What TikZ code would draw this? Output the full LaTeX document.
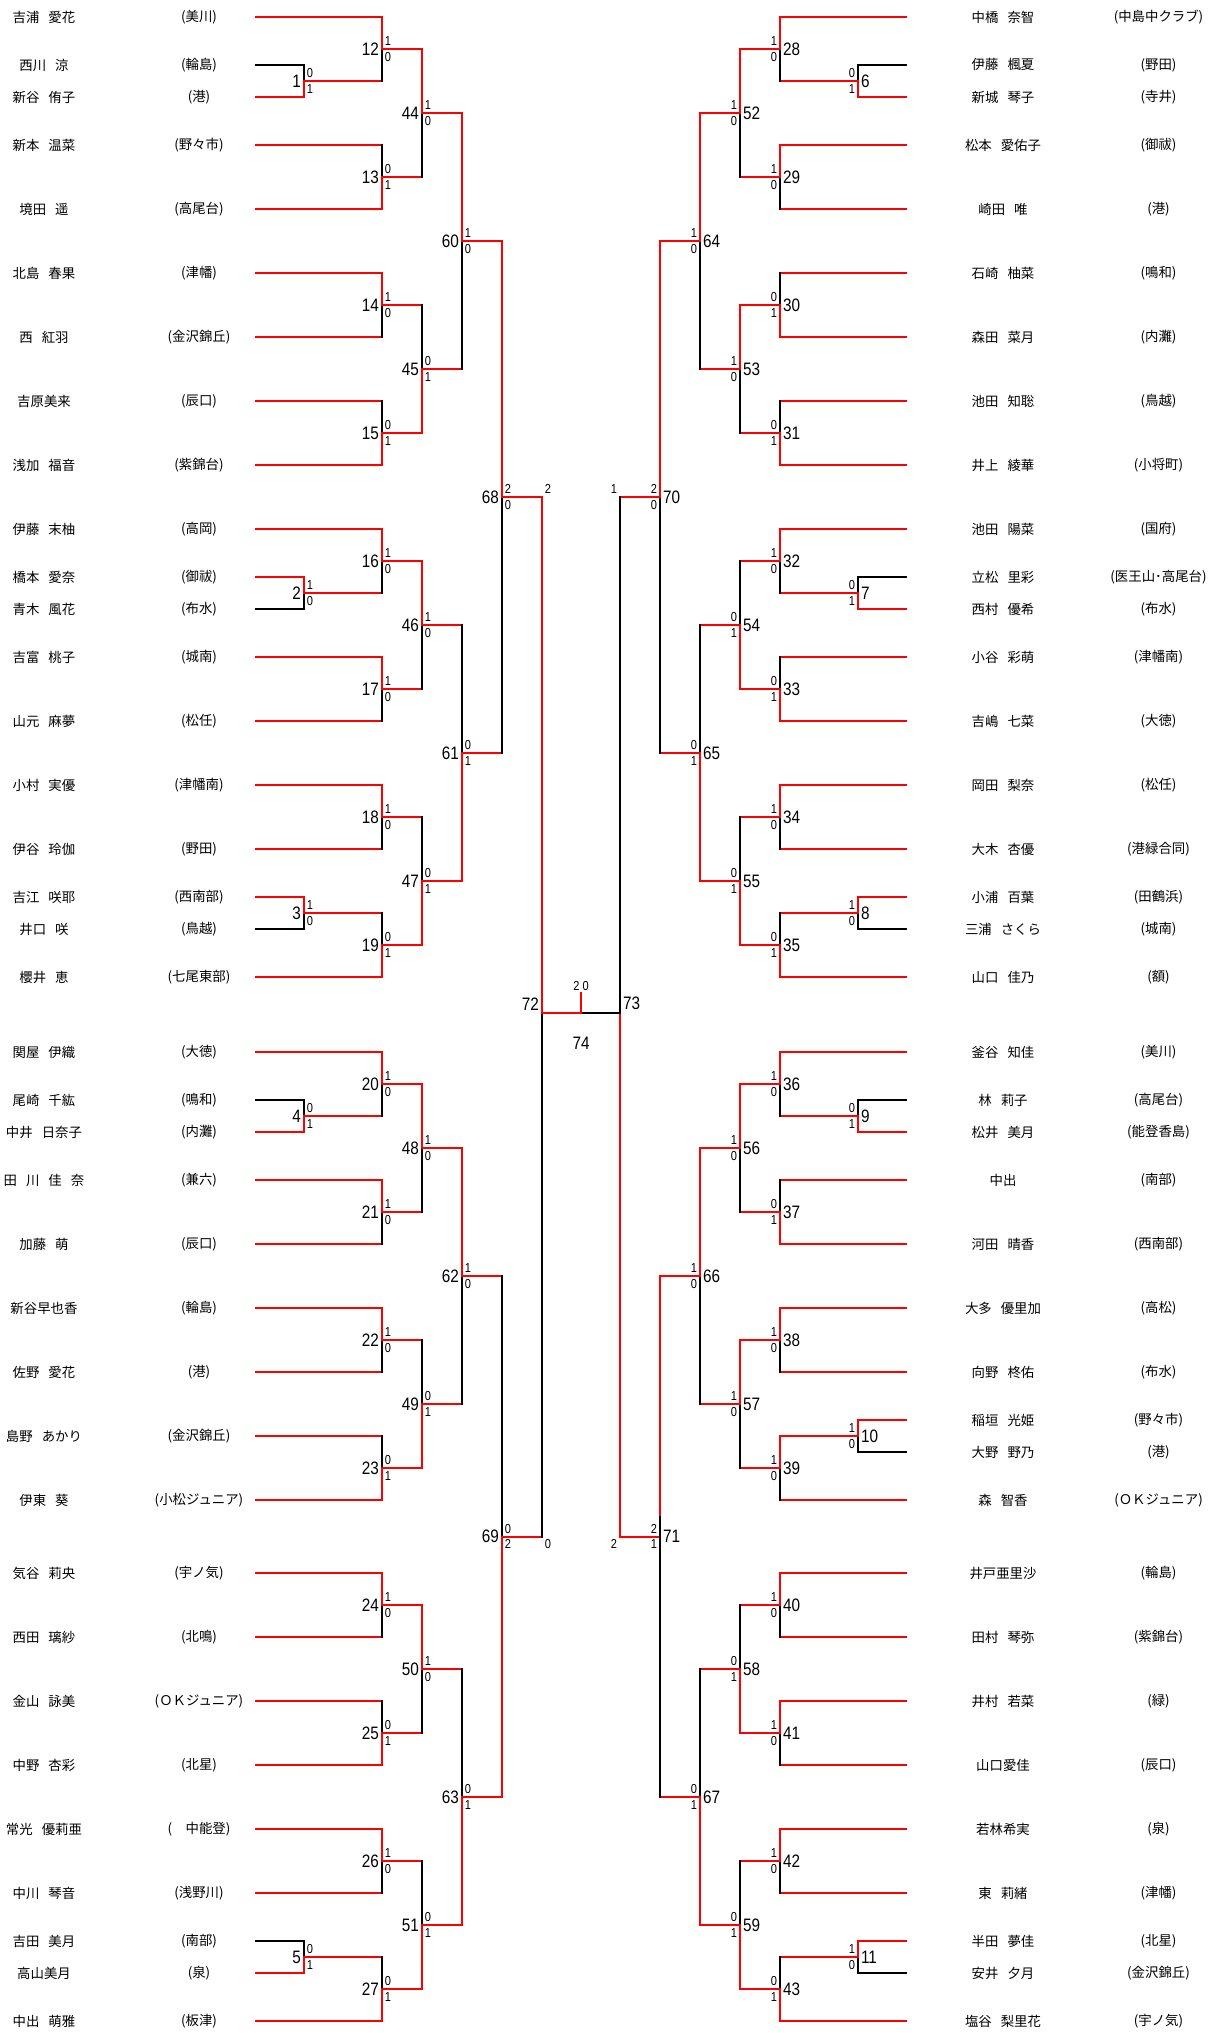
\documentclass[tikz,border=0pt]{standalone}
\usepackage{fontspec}
\setmainfont{Noto Sans CJK JP}[WordSpace=3]
\newfontfamily\numfont[FakeStretch=0.85]{Liberation Sans}
\usetikzlibrary{calc}

% one match: number, top feeder, bottom feeder, round x, next round x, scores, side
\newcommand\bout[8]{%
  \path ($(#2)!.5!(#3)$) coordinate (h#1);
  \coordinate (m#1) at (h#1 -| x#4);
  \ifnum#6>#7\relax \def\tcol{red}\def\bcol{black}\else \def\tcol{black}\def\bcol{red}\fi
  \draw[wire,color=\tcol] (#2 -| x#4) -- (m#1);
  \draw[wire,color=\bcol] (#3 -| x#4) -- (m#1);
  \draw[wire,red] (m#1) -- (m#1 -| x#5);
  \node[no#8] at (m#1) {#1};
  \node[ts#8] at (m#1) {#6};
  \node[bs#8] at (m#1) {#7};
}

\begin{document}
\begin{tikzpicture}[
x=0.5pt, y=-0.5pt,
wire/.style={line width=1pt,line cap=rect},
player/.style={inner sep=0pt,font=\fontsize{6.7}{7}\selectfont},
boutno/.style={inner sep=1.3pt,font=\numfont\fontsize{9}{10}\selectfont},
score/.style={inner xsep=1.25pt,inner ysep=1.4pt,font=\numfont\fontsize{6.5}{7}\selectfont},
nol/.style={boutno,anchor=east},
nor/.style={boutno,anchor=west},
tsl/.style={score,anchor=south west},
tsr/.style={score,anchor=south east},
bsl/.style={score,anchor=north west},
bsr/.style={score,anchor=north east}]
\useasboundingbox (0,0) rectangle (1208,2033);

% x of each round
\foreach \g/\x in {l0/256,lp/304,l1/382,l2/422,l3/462,l4/502,l5/542,c/581,
  r5/620,r4/660,r3/700,r2/740,r1/780,rp/858,r0/906}
  \coordinate (x\g) at (\x,0);

% left players
\foreach \i/\y/\who/\club/\tox/\wc in {
  0/17/吉浦 愛花/美川/l1/red,
  1a/65/西川 涼/輪島/lp/black,
  1b/97/新谷 侑子/港/lp/red,
  2/145/新本 温菜/野々市/l1/red,
  3/209/境田 遥/高尾台/l1/red,
  4/273/北島 春果/津幡/l1/red,
  5/337/西 紅羽/金沢錦丘/l1/red,
  6/401/吉原美来/辰口/l1/red,
  7/465/浅加 福音/紫錦台/l1/red,
  8/529/伊藤 末柚/高岡/l1/red,
  9a/577/橋本 愛奈/御祓/lp/red,
  9b/609/青木 風花/布水/lp/black,
  10/657/吉富 桃子/城南/l1/red,
  11/721/山元 麻夢/松任/l1/red,
  12/785/小村 実優/津幡南/l1/red,
  13/849/伊谷 玲伽/野田/l1/red,
  14a/897/吉江 咲耶/西南部/lp/red,
  14b/929/井口 咲/鳥越/lp/black,
  15/977/櫻井 恵/七尾東部/l1/red,
  16/1052/関屋 伊織/大徳/l1/red,
  17a/1100/尾崎 千紘/鳴和/lp/black,
  17b/1132/中井 日奈子/内灘/lp/red,
  18/1180/田 川 佳 奈/兼六/l1/red,
  19/1244/加藤 萌/辰口/l1/red,
  20/1308/新谷早也香/輪島/l1/red,
  21/1372/佐野 愛花/港/l1/red,
  22/1436/島野 あかり/金沢錦丘/l1/red,
  23/1500/伊東 葵/小松ジュニア/l1/red,
  24/1573/気谷 莉央/宇ノ気/l1/red,
  25/1637/西田 璃紗/北鳴/l1/red,
  26/1701/金山 詠美/ＯＫジュニア/l1/red,
  27/1765/中野 杏彩/北星/l1/red,
  28/1829/常光 優莉亜/　中能登/l1/red,
  29/1893/中川 琴音/浅野川/l1/red,
  30a/1941/吉田 美月/南部/lp/black,
  30b/1973/高山美月/泉/lp/red,
  31/2021/中出 萌雅/板津/l1/red}{
  \coordinate (L\i) at (256,\y);
  \node[player] (nL\i) at (44,\y) {\who};
  \node[player] (cL\i) at (199,\y) {(\club)};
  \draw[wire,color=\wc] (L\i) -- (L\i -| x\tox);
}

% right players
\foreach \i/\y/\who/\club/\tox/\wc in {
  0/17/中橋 奈智/中島中クラブ/r1/red,
  1a/65/伊藤 楓夏/野田/rp/black,
  1b/97/新城 琴子/寺井/rp/red,
  2/145/松本 愛佑子/御祓/r1/red,
  3/209/崎田 唯/港/r1/red,
  4/273/石崎 柚菜/鳴和/r1/red,
  5/337/森田 菜月/内灘/r1/red,
  6/401/池田 知聡/鳥越/r1/red,
  7/465/井上 綾華/小将町/r1/red,
  8/529/池田 陽菜/国府/r1/red,
  9a/577/立松 里彩/医王山･高尾台/rp/black,
  9b/609/西村 優希/布水/rp/red,
  10/657/小谷 彩萌/津幡南/r1/red,
  11/721/吉嶋 七菜/大徳/r1/red,
  12/785/岡田 梨奈/松任/r1/red,
  13/849/大木 杏優/港緑合同/r1/red,
  14a/897/小浦 百葉/田鶴浜/rp/red,
  14b/929/三浦 さくら/城南/rp/black,
  15/977/山口 佳乃/額/r1/red,
  16/1052/釜谷 知佳/美川/r1/red,
  17a/1100/林 莉子/高尾台/rp/black,
  17b/1132/松井 美月/能登香島/rp/red,
  18/1180/中出/南部/r1/red,
  19/1244/河田 晴香/西南部/r1/red,
  20/1308/大多 優里加/高松/r1/red,
  21/1372/向野 柊佑/布水/r1/red,
  22a/1420/稲垣 光姫/野々市/rp/red,
  22b/1452/大野 野乃/港/rp/black,
  23/1500/森 智香/ＯＫジュニア/r1/red,
  24/1573/井戸亜里沙/輪島/r1/red,
  25/1637/田村 琴弥/紫錦台/r1/red,
  26/1701/井村 若菜/緑/r1/red,
  27/1765/山口愛佳/辰口/r1/red,
  28/1829/若林希実/泉/r1/red,
  29/1893/東 莉緒/津幡/r1/red,
  30a/1941/半田 夢佳/北星/rp/red,
  30b/1973/安井 夕月/金沢錦丘/rp/black,
  31/2021/塩谷 梨里花/宇ノ気/r1/red}{
  \coordinate (R\i) at (906,\y);
  \node[player] (nR\i) at (1003,\y) {\who};
  \node[player] (cR\i) at (1158.5,\y) {(\club)};
  \draw[wire,color=\wc] (R\i) -- (R\i -| x\tox);
}

% preliminary matches
\bout{1}{L1a}{L1b}{lp}{l1}{0}{1}{l}
\bout{2}{L9a}{L9b}{lp}{l1}{1}{0}{l}
\bout{3}{L14a}{L14b}{lp}{l1}{1}{0}{l}
\bout{4}{L17a}{L17b}{lp}{l1}{0}{1}{l}
\bout{5}{L30a}{L30b}{lp}{l1}{0}{1}{l}
\bout{6}{R1a}{R1b}{rp}{r1}{0}{1}{r}
\bout{7}{R9a}{R9b}{rp}{r1}{0}{1}{r}
\bout{8}{R14a}{R14b}{rp}{r1}{1}{0}{r}
\bout{9}{R17a}{R17b}{rp}{r1}{0}{1}{r}
\bout{10}{R22a}{R22b}{rp}{r1}{1}{0}{r}
\bout{11}{R30a}{R30b}{rp}{r1}{1}{0}{r}

% first round
\foreach \n/\ta/\tb/\sa/\sb in {12/L0/m1/1/0,13/L2/L3/0/1,14/L4/L5/1/0,15/L6/L7/0/1,
  16/L8/m2/1/0,17/L10/L11/1/0,18/L12/L13/1/0,19/m3/L15/0/1,20/L16/m4/1/0,21/L18/L19/1/0,
  22/L20/L21/1/0,23/L22/L23/0/1,24/L24/L25/1/0,25/L26/L27/0/1,26/L28/L29/1/0,27/m5/L31/0/1}
  \bout{\n}{\ta}{\tb}{l1}{l2}{\sa}{\sb}{l};
\foreach \n/\ta/\tb/\sa/\sb in {28/R0/m6/1/0,29/R2/R3/1/0,30/R4/R5/0/1,31/R6/R7/0/1,
  32/R8/m7/1/0,33/R10/R11/0/1,34/R12/R13/1/0,35/m8/R15/0/1,36/R16/m9/1/0,37/R18/R19/0/1,
  38/R20/R21/1/0,39/m10/R23/1/0,40/R24/R25/1/0,41/R26/R27/1/0,42/R28/R29/1/0,43/m11/R31/0/1}
  \bout{\n}{\ta}{\tb}{r1}{r2}{\sa}{\sb}{r};

% second round
\foreach \n/\ta/\tb/\sa/\sb in {44/m12/m13/1/0,45/m14/m15/0/1,46/m16/m17/1/0,47/m18/m19/0/1,
  48/m20/m21/1/0,49/m22/m23/0/1,50/m24/m25/1/0,51/m26/m27/0/1}
  \bout{\n}{\ta}{\tb}{l2}{l3}{\sa}{\sb}{l};
\foreach \n/\ta/\tb/\sa/\sb in {52/m28/m29/1/0,53/m30/m31/1/0,54/m32/m33/0/1,55/m34/m35/0/1,
  56/m36/m37/1/0,57/m38/m39/1/0,58/m40/m41/0/1,59/m42/m43/0/1}
  \bout{\n}{\ta}{\tb}{r2}{r3}{\sa}{\sb}{r};

% third round
\foreach \n/\ta/\tb/\sa/\sb in {60/m44/m45/1/0,61/m46/m47/0/1,62/m48/m49/1/0,63/m50/m51/0/1}
  \bout{\n}{\ta}{\tb}{l3}{l4}{\sa}{\sb}{l};
\foreach \n/\ta/\tb/\sa/\sb in {64/m52/m53/1/0,65/m54/m55/0/1,66/m56/m57/1/0,67/m58/m59/0/1}
  \bout{\n}{\ta}{\tb}{r3}{r4}{\sa}{\sb}{r};

% quarter finals
\bout{68}{m60}{m61}{l4}{l5}{2}{0}{l}
\bout{69}{m62}{m63}{l4}{l5}{0}{2}{l}
\bout{70}{m64}{m65}{r4}{r5}{2}{0}{r}
\bout{71}{m66}{m67}{r4}{r5}{2}{1}{r}
\draw[wire,black] (m71) -- ++(0,-20);

% semi finals and final
\coordinate (m72) at (542,1013);
\coordinate (m73) at (620,1013);
\coordinate (m74) at (581,1013);
\coordinate (t74) at (581,993);
\draw[wire,black] (m69 -| xl5) -- (m72);
\draw[wire,red] (m68 -| xl5) -- (m72);
\draw[wire,black] (m70 -| xr5) -- (m73);
\draw[wire,red] (m71 -| xr5) -- (m73);
\draw[wire,black] (m74) -- (m73);
\draw[wire,red] (m72) -- (m74) -- (t74);
\node[boutno,anchor=south east] (n72) at (m72) {72};
\node[boutno,anchor=south west] (n73) at (m73) {73};
\node[boutno] (n74) at (581,1043) {74};
\node[score] (s74) at (581,986) {2 0};
\node[tsl] at (m68 -| xl5) {2};
\node[bsl] at (m69 -| xl5) {0};
\node[tsr] at (m70 -| xr5) {1};
\node[bsr] at (m71 -| xr5) {2};
\end{tikzpicture}
\end{document}
